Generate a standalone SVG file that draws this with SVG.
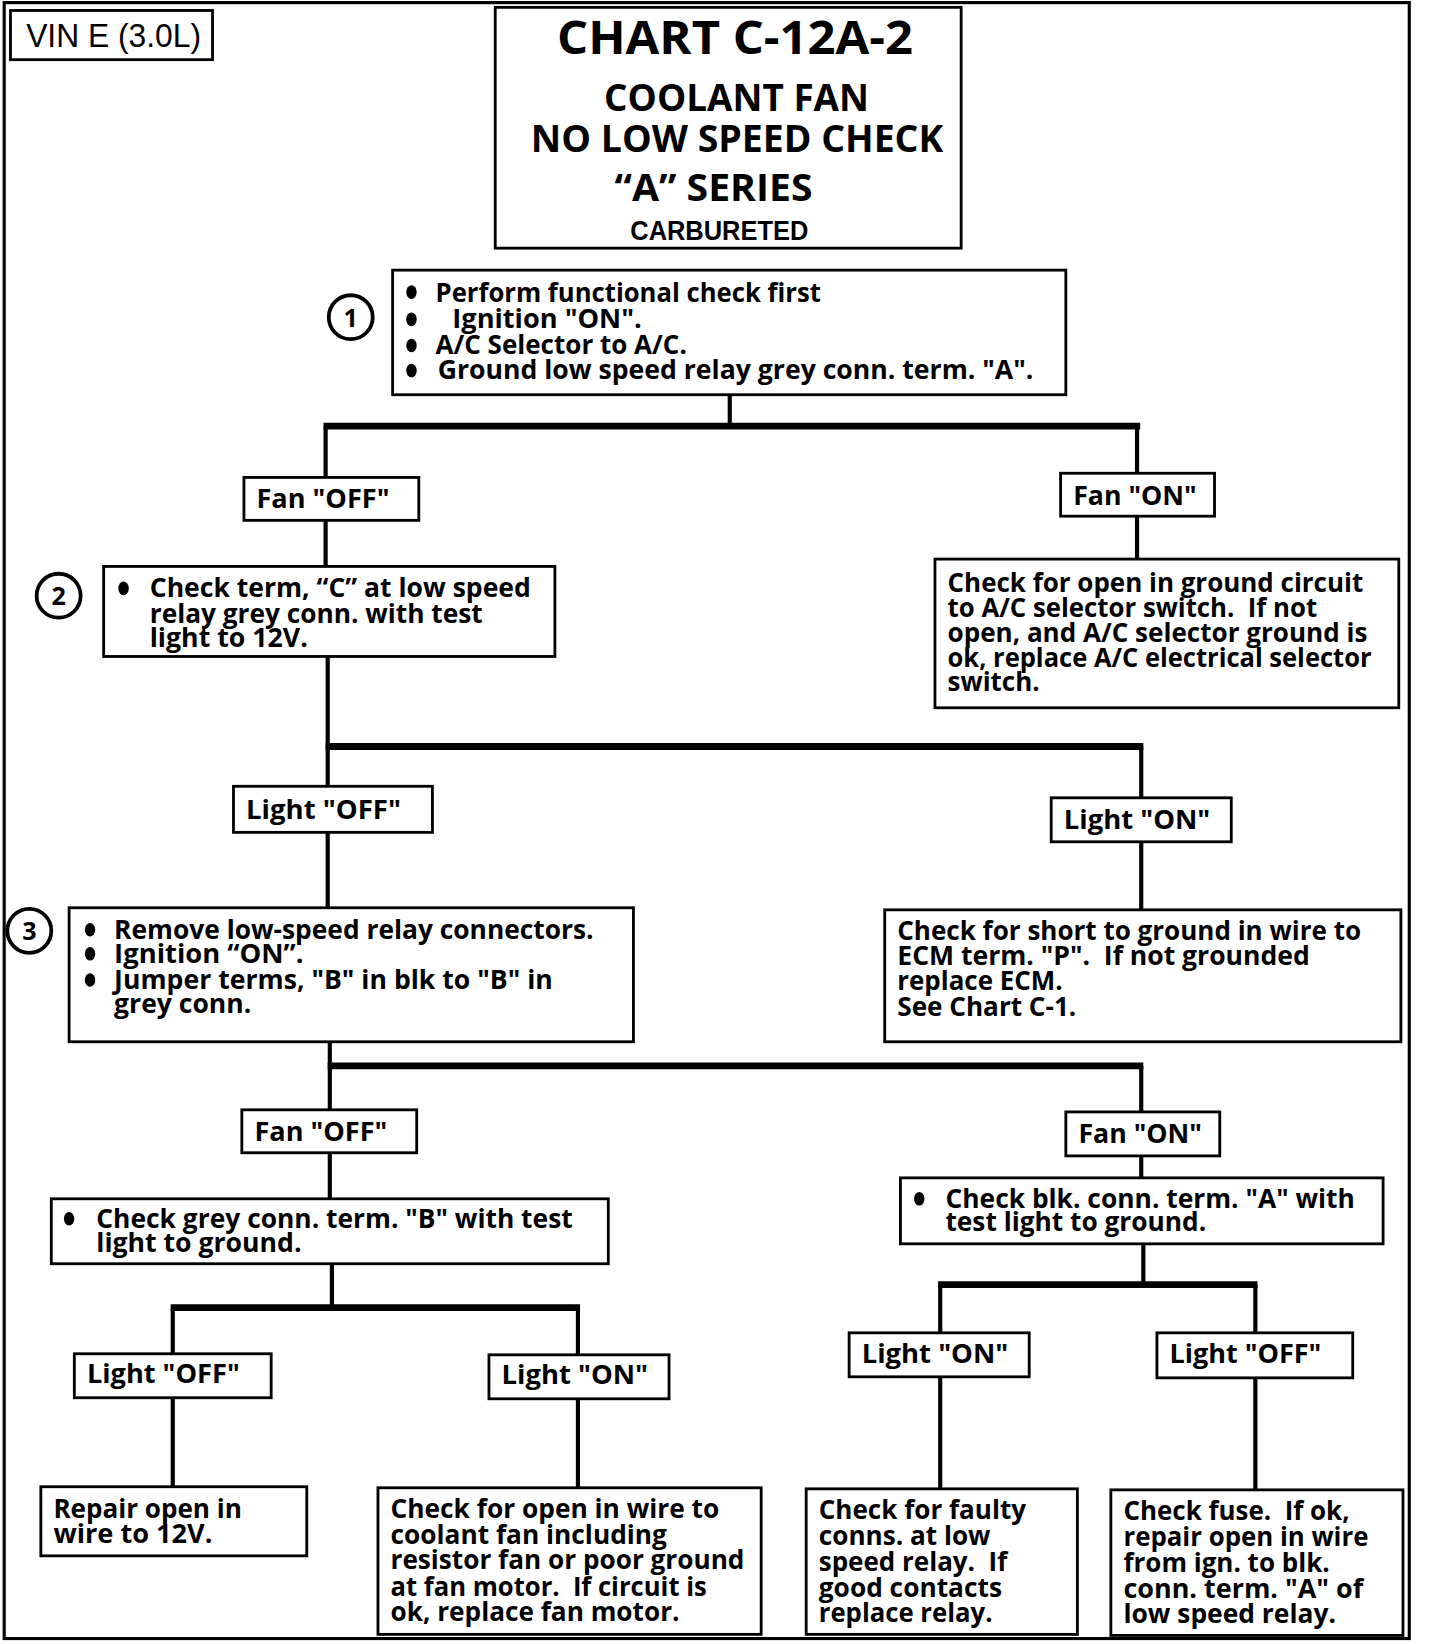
<svg xmlns="http://www.w3.org/2000/svg" width="1440" height="1644" viewBox="0 0 1440 1644">
<style>
.bx{fill:#fff;stroke:#000;stroke-width:2.7}
.t{font-family:"Open Sans","Noto Sans",sans-serif;font-weight:700;font-size:25px;fill:#000;white-space:pre}
.ttl{font-family:"Open Sans","Noto Sans",sans-serif;font-weight:700;fill:#000}
.hv{font-family:"Liberation Sans",Arial,sans-serif;fill:#000}
.ln{stroke:#000;stroke-width:4;fill:none}
.bar{stroke:#000;stroke-width:6.5;fill:none}
.cir{fill:#fff;stroke:#000;stroke-width:3.6}
.num{font-family:"Open Sans","Noto Sans",sans-serif;font-weight:700;font-size:24px;text-anchor:middle}
.bul{fill:#000}
</style>
<rect width="1440" height="1644" fill="#fff"/>
<g transform="scale(1.047)">
<rect id="frame" x="4" y="2.5" width="1342" height="1562.5" fill="none" stroke="#000" stroke-width="3"/>

<g id="connectors">
<line class="ln" x1="697" y1="377" x2="697" y2="407"/>
<line class="bar" x1="309" y1="407" x2="1089" y2="407"/>
<line class="ln" x1="311" y1="407" x2="311" y2="456"/>
<line class="ln" x1="1086" y1="407" x2="1086" y2="452"/>
<line class="ln" x1="311" y1="497" x2="311" y2="541"/>
<line class="ln" x1="1086" y1="493" x2="1086" y2="534"/>
<line class="ln" x1="313" y1="627" x2="313" y2="713"/>
<line class="bar" x1="311" y1="713" x2="1092" y2="713"/>
<line class="ln" x1="313" y1="713" x2="313" y2="751"/>
<line class="ln" x1="1090" y1="713" x2="1090" y2="762"/>
<line class="ln" x1="313" y1="795" x2="313" y2="867"/>
<line class="ln" x1="1090" y1="804" x2="1090" y2="869"/>
<line class="ln" x1="315" y1="995" x2="315" y2="1018"/>
<line class="bar" x1="313" y1="1018" x2="1092" y2="1018"/>
<line class="ln" x1="315" y1="1018" x2="315" y2="1060"/>
<line class="ln" x1="1090" y1="1018" x2="1090" y2="1062"/>
<line class="ln" x1="315" y1="1101" x2="315" y2="1145"/>
<line class="ln" x1="1090" y1="1104" x2="1090" y2="1125"/>
<line class="ln" x1="317" y1="1207" x2="317" y2="1249"/>
<line class="bar" x1="163" y1="1249" x2="554" y2="1249"/>
<line class="ln" x1="165" y1="1249" x2="165" y2="1293"/>
<line class="ln" x1="552" y1="1249" x2="552" y2="1294"/>
<line class="ln" x1="165" y1="1335" x2="165" y2="1420"/>
<line class="ln" x1="552" y1="1336" x2="552" y2="1421"/>
<line class="ln" x1="1092" y1="1188" x2="1092" y2="1227"/>
<line class="bar" x1="896" y1="1227" x2="1201" y2="1227"/>
<line class="ln" x1="898" y1="1227" x2="898" y2="1273"/>
<line class="ln" x1="1199" y1="1227" x2="1199" y2="1273"/>
<line class="ln" x1="898" y1="1315" x2="898" y2="1422"/>
<line class="ln" x1="1199" y1="1316" x2="1199" y2="1423"/>
</g>

<g id="vin">
<rect class="bx" x="10" y="10" width="193" height="47"/>
<text class="hv" x="25" y="45" font-size="31" textLength="167" lengthAdjust="spacingAndGlyphs">VIN E (3.0L)</text>
</g>

<g id="title">
<rect class="bx" x="473" y="7" width="445" height="230"/>
<text class="ttl" x="532" y="52" font-size="45" textLength="340" lengthAdjust="spacingAndGlyphs">CHART C-12A-2</text>
<text class="ttl" x="577" y="106" font-size="35" textLength="253" lengthAdjust="spacingAndGlyphs">COOLANT FAN</text>
<text class="ttl" x="507" y="145" font-size="35" textLength="394" lengthAdjust="spacingAndGlyphs">NO LOW SPEED CHECK</text>
<text class="ttl" x="587" y="192" font-size="35" textLength="189" lengthAdjust="spacingAndGlyphs">“A” SERIES</text>
<text class="hv" x="602" y="229" font-size="27" font-weight="700" textLength="170" lengthAdjust="spacingAndGlyphs">CARBURETED</text>
</g>

<g id="step1">
<circle class="cir" cx="335" cy="303" r="21"/>
<text class="num" x="335" y="312">1</text>
<rect class="bx" x="375" y="258" width="643" height="119"/>
<ellipse class="bul" cx="393" cy="279" rx="5" ry="6.5"/>
<ellipse class="bul" cx="393" cy="305" rx="5" ry="6.5"/>
<ellipse class="bul" cx="393" cy="330" rx="5" ry="6.5"/>
<ellipse class="bul" cx="393" cy="354" rx="5" ry="6.5"/>
<text class="t" x="416" y="288" textLength="368" lengthAdjust="spacingAndGlyphs">Perform functional check first</text>
<text class="t" x="432" y="313" textLength="181" lengthAdjust="spacingAndGlyphs">Ignition "ON".</text>
<text class="t" x="416" y="338" textLength="240" lengthAdjust="spacingAndGlyphs">A/C Selector to A/C.</text>
<text class="t" x="418" y="362" textLength="569" lengthAdjust="spacingAndGlyphs">Ground low speed relay grey conn. term. "A".</text>
</g>

<g id="fanoff1">
<rect class="bx" x="233" y="456" width="167" height="41"/>
<text class="t" x="245" y="485" textLength="127" lengthAdjust="spacingAndGlyphs">Fan "OFF"</text>
</g>
<g id="fanon1">
<rect class="bx" x="1013" y="452" width="147" height="41"/>
<text class="t" x="1025" y="482" textLength="118" lengthAdjust="spacingAndGlyphs">Fan "ON"</text>
</g>

<g id="step2">
<circle class="cir" cx="56" cy="569" r="21"/>
<text class="num" x="56" y="578">2</text>
<rect class="bx" x="99" y="541" width="431" height="86"/>
<ellipse class="bul" cx="118" cy="562" rx="5" ry="6.5"/>
<text class="t" x="143" y="570" textLength="364" lengthAdjust="spacingAndGlyphs">Check term, “C” at low speed</text>
<text class="t" x="143" y="595" textLength="318" lengthAdjust="spacingAndGlyphs">relay grey conn. with test</text>
<text class="t" x="143" y="618" textLength="151" lengthAdjust="spacingAndGlyphs">light to 12V.</text>
</g>

<g id="opengnd">
<rect class="bx" x="893" y="534" width="443" height="142"/>
<text class="t" x="905" y="565" textLength="397" lengthAdjust="spacingAndGlyphs">Check for open in ground circuit</text>
<text class="t" x="905" y="589" textLength="353" lengthAdjust="spacingAndGlyphs">to A/C selector switch.  If not</text>
<text class="t" x="905" y="613" textLength="401" lengthAdjust="spacingAndGlyphs">open, and A/C selector ground is</text>
<text class="t" x="905" y="637" textLength="405" lengthAdjust="spacingAndGlyphs">ok, replace A/C electrical selector</text>
<text class="t" x="905" y="660" textLength="88" lengthAdjust="spacingAndGlyphs">switch.</text>
</g>

<g id="lightoff1">
<rect class="bx" x="223" y="751" width="190" height="44"/>
<text class="t" x="235" y="782" textLength="148" lengthAdjust="spacingAndGlyphs">Light "OFF"</text>
</g>
<g id="lighton1">
<rect class="bx" x="1004" y="762" width="172" height="42"/>
<text class="t" x="1016" y="792" textLength="140" lengthAdjust="spacingAndGlyphs">Light "ON"</text>
</g>

<g id="step3">
<circle class="cir" cx="28" cy="889" r="21"/>
<text class="num" x="28" y="898">3</text>
<rect class="bx" x="66" y="867" width="539" height="128"/>
<ellipse class="bul" cx="86" cy="888" rx="5" ry="6.5"/>
<ellipse class="bul" cx="86" cy="911" rx="5" ry="6.5"/>
<ellipse class="bul" cx="86" cy="936" rx="5" ry="6.5"/>
<text class="t" x="109" y="897" textLength="458" lengthAdjust="spacingAndGlyphs">Remove low-speed relay connectors.</text>
<text class="t" x="109" y="920" textLength="181" lengthAdjust="spacingAndGlyphs">Ignition “ON”.</text>
<text class="t" x="109" y="945" textLength="419" lengthAdjust="spacingAndGlyphs">Jumper terms, "B" in blk to "B" in</text>
<text class="t" x="109" y="968" textLength="131" lengthAdjust="spacingAndGlyphs">grey conn.</text>
</g>

<g id="shortgnd">
<rect class="bx" x="845" y="869" width="493" height="126"/>
<text class="t" x="857" y="898" textLength="443" lengthAdjust="spacingAndGlyphs">Check for short to ground in wire to</text>
<text class="t" x="857" y="922" textLength="394" lengthAdjust="spacingAndGlyphs">ECM term. "P".  If not grounded</text>
<text class="t" x="857" y="946" textLength="158" lengthAdjust="spacingAndGlyphs">replace ECM.</text>
<text class="t" x="857" y="970" textLength="171" lengthAdjust="spacingAndGlyphs">See Chart C-1.</text>
</g>

<g id="fanoff2">
<rect class="bx" x="231" y="1060" width="167" height="41"/>
<text class="t" x="243" y="1090" textLength="127" lengthAdjust="spacingAndGlyphs">Fan "OFF"</text>
</g>
<g id="fanon2">
<rect class="bx" x="1018" y="1062" width="147" height="42"/>
<text class="t" x="1030" y="1092" textLength="118" lengthAdjust="spacingAndGlyphs">Fan "ON"</text>
</g>

<g id="checkgrey">
<rect class="bx" x="49" y="1145" width="532" height="62"/>
<ellipse class="bul" cx="66" cy="1164" rx="5" ry="6.5"/>
<text class="t" x="92" y="1173" textLength="455" lengthAdjust="spacingAndGlyphs">Check grey conn. term. "B" with test</text>
<text class="t" x="92" y="1196" textLength="196" lengthAdjust="spacingAndGlyphs">light to ground.</text>
</g>

<g id="checkblk">
<rect class="bx" x="860" y="1125" width="461" height="63"/>
<ellipse class="bul" cx="878" cy="1145" rx="5" ry="6.5"/>
<text class="t" x="903" y="1154" textLength="391" lengthAdjust="spacingAndGlyphs">Check blk. conn. term. "A" with</text>
<text class="t" x="903" y="1176" textLength="249" lengthAdjust="spacingAndGlyphs">test light to ground.</text>
</g>

<g id="lightoff3">
<rect class="bx" x="71" y="1293" width="188" height="42"/>
<text class="t" x="83" y="1321" textLength="146" lengthAdjust="spacingAndGlyphs">Light "OFF"</text>
</g>
<g id="lighton3">
<rect class="bx" x="467" y="1294" width="172" height="42"/>
<text class="t" x="479" y="1322" textLength="140" lengthAdjust="spacingAndGlyphs">Light "ON"</text>
</g>
<g id="lighton4">
<rect class="bx" x="811" y="1273" width="172" height="42"/>
<text class="t" x="823" y="1302" textLength="140" lengthAdjust="spacingAndGlyphs">Light "ON"</text>
</g>
<g id="lightoff4">
<rect class="bx" x="1105" y="1273" width="187" height="43"/>
<text class="t" x="1117" y="1302" textLength="145" lengthAdjust="spacingAndGlyphs">Light "OFF"</text>
</g>

<g id="repair12v">
<rect class="bx" x="39" y="1420" width="254" height="66"/>
<text class="t" x="51" y="1450" textLength="180" lengthAdjust="spacingAndGlyphs">Repair open in</text>
<text class="t" x="51" y="1474" textLength="152" lengthAdjust="spacingAndGlyphs">wire to 12V.</text>
</g>

<g id="fanmotor">
<rect class="bx" x="361" y="1421" width="366" height="140"/>
<text class="t" x="373" y="1450" textLength="314" lengthAdjust="spacingAndGlyphs">Check for open in wire to</text>
<text class="t" x="373" y="1475" textLength="264" lengthAdjust="spacingAndGlyphs">coolant fan including</text>
<text class="t" x="373" y="1499" textLength="338" lengthAdjust="spacingAndGlyphs">resistor fan or poor ground</text>
<text class="t" x="373" y="1524" textLength="302" lengthAdjust="spacingAndGlyphs">at fan motor.  If circuit is</text>
<text class="t" x="373" y="1548" textLength="276" lengthAdjust="spacingAndGlyphs">ok, replace fan motor.</text>
</g>

<g id="faultyconns">
<rect class="bx" x="770" y="1422" width="259" height="139"/>
<text class="t" x="782" y="1451" textLength="198" lengthAdjust="spacingAndGlyphs">Check for faulty</text>
<text class="t" x="782" y="1476" textLength="164" lengthAdjust="spacingAndGlyphs">conns. at low</text>
<text class="t" x="782" y="1500" textLength="180" lengthAdjust="spacingAndGlyphs">speed relay.  If</text>
<text class="t" x="782" y="1525" textLength="175" lengthAdjust="spacingAndGlyphs">good contacts</text>
<text class="t" x="782" y="1549" textLength="166" lengthAdjust="spacingAndGlyphs">replace relay.</text>
</g>

<g id="checkfuse">
<rect class="bx" x="1061" y="1423" width="279" height="139"/>
<text class="t" x="1073" y="1452" textLength="216" lengthAdjust="spacingAndGlyphs">Check fuse.  If ok,</text>
<text class="t" x="1073" y="1477" textLength="234" lengthAdjust="spacingAndGlyphs">repair open in wire</text>
<text class="t" x="1073" y="1501" textLength="197" lengthAdjust="spacingAndGlyphs">from ign. to blk.</text>
<text class="t" x="1073" y="1526" textLength="229" lengthAdjust="spacingAndGlyphs">conn. term. "A" of</text>
<text class="t" x="1073" y="1550" textLength="203" lengthAdjust="spacingAndGlyphs">low speed relay.</text>
</g>
</g>
</svg>
